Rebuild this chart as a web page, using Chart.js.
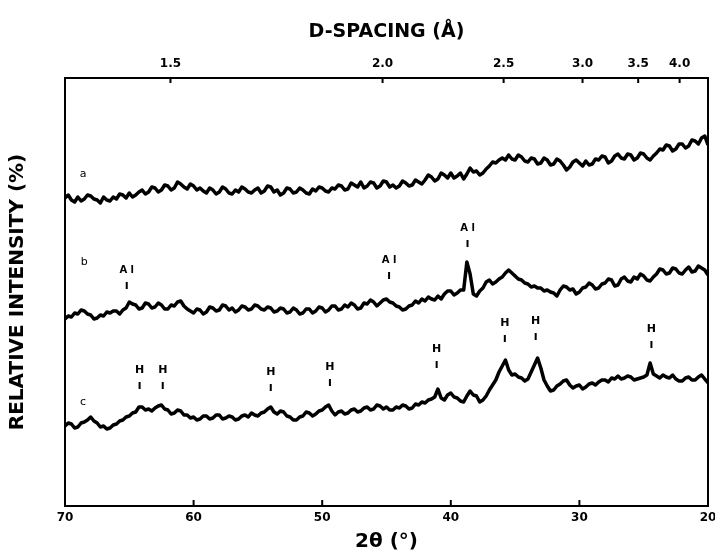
<!DOCTYPE html>
<html>
<head>
<meta charset="utf-8">
<script src="https://cdn.jsdelivr.net/npm/chart.js@4/dist/chart.umd.min.js"></script>
<style>
  html, body { margin: 0; padding: 0; background: #fff; }
  #wrap { width: 715px; height: 557px; }
</style>
</head>
<body>
<div id="wrap"><canvas id="xrd" width="715" height="557"></canvas></div>
<script>
// 2-theta grid (degrees), one row per degree, read every 0.25 deg
const twoTheta = [
  70, 69.75, 69.5, 69.25,  69, 68.75, 68.5, 68.25,  68, 67.75, 67.5, 67.25,
  67, 66.75, 66.5, 66.25,  66, 65.75, 65.5, 65.25,  65, 64.75, 64.5, 64.25,
  64, 63.75, 63.5, 63.25,  63, 62.75, 62.5, 62.25,  62, 61.75, 61.5, 61.25,
  61, 60.75, 60.5, 60.25,  60, 59.75, 59.5, 59.25,  59, 58.75, 58.5, 58.25,
  58, 57.75, 57.5, 57.25,  57, 56.75, 56.5, 56.25,  56, 55.75, 55.5, 55.25,
  55, 54.75, 54.5, 54.25,  54, 53.75, 53.5, 53.25,  53, 52.75, 52.5, 52.25,
  52, 51.75, 51.5, 51.25,  51, 50.75, 50.5, 50.25,  50, 49.75, 49.5, 49.25,
  49, 48.75, 48.5, 48.25,  48, 47.75, 47.5, 47.25,  47, 46.75, 46.5, 46.25,
  46, 45.75, 45.5, 45.25,  45, 44.75, 44.5, 44.25,  44, 43.75, 43.5, 43.25,
  43, 42.75, 42.5, 42.25,  42, 41.75, 41.5, 41.25,  41, 40.75, 40.5, 40.25,
  40, 39.75, 39.5, 39.25,  39, 38.75, 38.5, 38.25,  38, 37.75, 37.5, 37.25,
  37, 36.75, 36.5, 36.25,  36, 35.75, 35.5, 35.25,  35, 34.75, 34.5, 34.25,
  34, 33.75, 33.5, 33.25,  33, 32.75, 32.5, 32.25,  32, 31.75, 31.5, 31.25,
  31, 30.75, 30.5, 30.25,  30, 29.75, 29.5, 29.25,  29, 28.75, 28.5, 28.25,
  28, 27.75, 27.5, 27.25,  27, 26.75, 26.5, 26.25,  26, 25.75, 25.5, 25.25,
  25, 24.75, 24.5, 24.25,  24, 23.75, 23.5, 23.25,  23, 22.75, 22.5, 22.25,
  22, 21.75, 21.5, 21.25,  21, 20.75, 20.5, 20.25,  20
];

// traces, stacked with offsets (arbitrary units)
const traceA = [
  308, 311, 306, 304,  309, 305, 307, 311,  310, 307, 306, 303,
  309, 306, 305, 309,  307, 312, 311, 308,  313, 309, 311, 314,
  316, 312, 314, 319,  318, 314, 316, 321,  320, 316, 318, 324,
  322, 319, 317, 322,  320, 316, 318, 315,  313, 318, 316, 312,
  314, 319, 317, 313,  312, 316, 314, 319,  317, 314, 313, 316,
  318, 313, 315, 320,  319, 314, 316, 311,  313, 318, 317, 313,
  314, 318, 316, 313,  312, 317, 315, 319,  318, 315, 314, 318,
  317, 321, 320, 316,  317, 323, 321, 319,  324, 318, 320, 324,
  323, 318, 320, 325,  324, 319, 321, 318,  320, 325, 323, 320,
  321, 326, 324, 322,  326, 331, 329, 325,  327, 333, 331, 328,
  333, 328, 330, 333,  327, 332, 338, 334,  335, 331, 333, 337,
  340, 344, 343, 346,  348, 346, 351, 347,  346, 351, 349, 345,
  344, 348, 347, 342,  343, 348, 346, 341,  342, 347, 345, 341,
  336, 339, 344, 346,  343, 340, 345, 341,  342, 347, 346, 350,
  349, 343, 345, 350,  352, 348, 347, 352,  351, 346, 348, 353,
  352, 348, 346, 350,  353, 357, 356, 361,  360, 355, 357, 362,
  362, 358, 360, 366,  365, 362, 368, 370,  361
];
const traceB = [
  187, 190, 189, 193,  192, 196, 195, 192,  191, 187, 188, 191,
  190, 194, 193, 195,  195, 192, 196, 198,  204, 202, 201, 197,
  198, 203, 202, 198,  199, 203, 201, 197,  197, 201, 200, 204,
  205, 200, 197, 195,  193, 197, 196, 192,  194, 199, 198, 195,
  196, 201, 200, 196,  198, 194, 196, 200,  199, 196, 197, 201,
  200, 197, 196, 199,  198, 194, 195, 198,  197, 193, 194, 198,
  196, 192, 193, 197,  197, 193, 195, 199,  198, 194, 196, 200,
  200, 196, 197, 201,  199, 203, 201, 197,  198, 203, 202, 206,
  204, 200, 203, 206,  207, 204, 203, 200,  199, 196, 197, 200,
  201, 205, 203, 207,  205, 209, 207, 206,  210, 207, 212, 215,
  215, 211, 213, 216,  216, 244, 232, 212,  210, 215, 218, 224,
  226, 222, 224, 227,  229, 233, 236, 233,  230, 227, 226, 223,
  222, 219, 220, 218,  218, 215, 216, 214,  213, 210, 216, 220,
  219, 216, 217, 212,  214, 218, 219, 223,  221, 217, 218, 222,
  223, 227, 226, 220,  221, 227, 229, 225,  224, 229, 227, 232,
  230, 226, 225, 229,  232, 237, 236, 232,  233, 238, 237, 233,
  232, 236, 239, 234,  235, 240, 238, 236,  231
];
const traceC = [
  80, 83, 82, 78,  79, 83, 84, 86,  89, 85, 83, 79,
  80, 77, 78, 81,  82, 85, 86, 89,  90, 93, 94, 99,
  99, 96, 97, 95,  98, 100, 101, 97,  96, 92, 93, 96,
  95, 91, 91, 88,  89, 86, 87, 90,  90, 87, 88, 91,
  91, 87, 88, 90,  89, 86, 87, 90,  91, 89, 93, 91,
  90, 93, 94, 97,  99, 94, 92, 95,  94, 90, 89, 86,
  86, 89, 90, 94,  93, 90, 92, 95,  96, 99, 101, 95,
  91, 94, 95, 92,  93, 96, 97, 94,  95, 98, 99, 96,
  97, 101, 100, 97,  99, 96, 96, 99,  98, 101, 100, 97,
  98, 102, 101, 104,  103, 106, 107, 109,  117, 108, 106, 111,
  113, 109, 108, 105,  104, 110, 115, 111,  110, 104, 106, 110,
  116, 121, 126, 134,  140, 146, 136, 131,  132, 129, 128, 125,
  127, 134, 141, 148,  138, 126, 120, 115,  116, 120, 122, 125,
  126, 121, 118, 120,  121, 117, 119, 122,  123, 121, 124, 126,
  126, 124, 128, 127,  130, 127, 128, 130,  129, 126, 127, 128,
  129, 131, 143, 132,  130, 128, 131, 129,  128, 131, 127, 125,
  125, 128, 129, 126,  126, 129, 131, 127,  123
];

// top axis: d-spacing labels (Å), Cu K-alpha
const dLabels = [1.5, 2.0, 2.5, 3.0, 3.5, 4.0];
const lambda = 1.5406;
const bottomTicks = [60, 50, 40, 30];

// trace letters and phase markers: [2theta, height]
const traceNames = [["a", 68.6, 332], ["b", 68.5, 244], ["c", 68.6, 104]];
const alPeaks = [[65.2, 236], [44.8, 246], [38.7, 278]];
const hPeaks  = [[64.2, 136], [62.4, 136], [54.0, 134], [49.4, 139],
                 [41.1, 157], [35.8, 183], [33.4, 185], [24.4, 177]];

const FONT = "'DejaVu Sans', 'Liberation Sans', sans-serif";
const toTheta = d => 2 * Math.asin(lambda / (2 * d)) * 180 / Math.PI;
const toD = t => lambda / (2 * Math.sin(t / 2 * Math.PI / 180));

const pts = arr => twoTheta.map((t, i) => ({ x: t, y: arr[i] }));
const line = arr => ({
  data: pts(arr), borderColor: "#000", borderWidth: 3.5, pointRadius: 0,
  tension: 0, borderJoinStyle: "round", fill: false
});

const decor = {
  id: "decor",
  afterDraw(chart) {
    const { ctx, chartArea: a } = chart;
    const x = chart.scales.x, y = chart.scales.y;
    ctx.save();
    ctx.strokeStyle = "#000";
    ctx.lineWidth = 2;
    ctx.strokeRect(a.left, a.top, a.right - a.left, a.bottom - a.top);
    // inward ticks
    ctx.beginPath();
    bottomTicks.forEach(v => {
      const px = x.getPixelForValue(v);
      ctx.moveTo(px, a.bottom); ctx.lineTo(px, a.bottom - 6);
    });
    dLabels.forEach(d => {
      const px = x.getPixelForValue(toTheta(d));
      ctx.moveTo(px, a.top); ctx.lineTo(px, a.top + 5);
    });
    ctx.stroke();

    ctx.fillStyle = "#000";
    ctx.textAlign = "center";
    ctx.textBaseline = "middle";
    ctx.font = "11px " + FONT;
    traceNames.forEach(([s, t, h]) => ctx.fillText(s, x.getPixelForValue(t), y.getPixelForValue(h)));

    const mark = (label, t, h) => {
      const px = x.getPixelForValue(t), py = y.getPixelForValue(h);
      ctx.fillText(label, px, py);
      ctx.fillRect(px - 1, py + 12, 2, 7);
    };
    ctx.font = "bold 10px " + FONT;
    alPeaks.forEach(([t, h]) => mark("A l", t, h));
    ctx.font = "bold 11px " + FONT;
    hPeaks.forEach(([t, h]) => mark("H", t, h));
    ctx.restore();
  }
};

const tickFont = { family: FONT, size: 12, weight: "bold" };
// let the "20" label hang past the frame like the original
const noSidePad = s => { s.paddingLeft = 0; s.paddingRight = 0; };

new Chart(document.getElementById("xrd"), {
  type: "line",
  data: { datasets: [line(traceA), line(traceB), line(traceC)] },
  options: {
    responsive: false,
    animation: false,
    layout: { padding: { left: 0, right: 7, top: 0, bottom: 0 } },
    plugins: { legend: { display: false }, tooltip: { enabled: false } },
    scales: {
      x: {
        type: "linear", position: "bottom", min: 20, max: 70, reverse: true,
        afterBuildTicks: s => { s.ticks = [70, 60, 50, 40, 30, 20].map(v => ({ value: v })); },
        ticks: { color: "#000", font: tickFont, padding: 5, maxRotation: 0, autoSkip: false },
        grid: { display: false, drawTicks: false },
        border: { display: false },
        title: { display: true, text: "2θ (°)", color: "#000", padding: { top: 4, bottom: 3 },
                 font: { family: FONT, size: 20, weight: "bold" } },
        afterFit: s => { s.height = 51; noSidePad(s); }
      },
      x2: {
        type: "linear", position: "top", min: 20, max: 70, reverse: true,
        afterBuildTicks: s => { s.ticks = dLabels.map(d => ({ value: toTheta(d) })); },
        ticks: { color: "#000", font: tickFont, padding: 7, maxRotation: 0, autoSkip: false,
                 callback: v => toD(v).toFixed(1) },
        grid: { display: false, drawTicks: false },
        border: { display: false },
        title: { display: true, text: "D-SPACING (Å)", color: "#000", padding: { top: 21, bottom: 4 },
                 font: { family: FONT, size: 19, weight: "bold" } },
        afterFit: s => { s.height = 78; noSidePad(s); }
      },
      y: {
        min: 0, max: 428,
        ticks: { display: false },
        grid: { display: false, drawTicks: false },
        border: { display: false },
        title: { display: true, text: "RELATIVE INTENSITY (%)", color: "#000", padding: { top: 6, bottom: 6 },
                 font: { family: FONT, size: 20, weight: "bold" } },
        afterFit: s => { s.width = 65; }
      }
    }
  },
  plugins: [decor]
});
</script>
</body>
</html>
